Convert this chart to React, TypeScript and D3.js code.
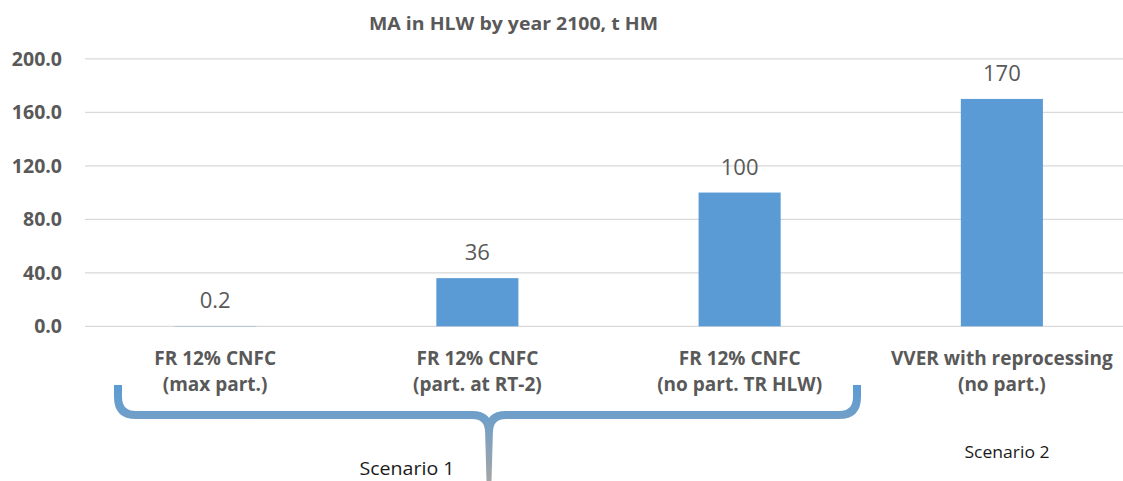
import * as d3 from "d3";
import { useEffect, useRef } from "react";

const categories = ["FR 12% CNFC|(max part.)", "FR 12% CNFC|(part. at RT-2)", "FR 12% CNFC|(no part. TR HLW)", "VVER with reprocessing|(no part.)"];
const values = [0.2, 36, 100, 170];
const valueLabels = ["0.2", "36", "100", "170"];
const yTicks = [0, 40, 80, 120, 160, 200];
const title = "MA in HLW by year 2100, t HM";
const scenarioLabels = ["Scenario 1", "Scenario 2"];

const W = 1123, H = 481;

const App = () => {
    const ref = useRef<SVGSVGElement>(null);

    useEffect(() => {
        const svg = d3.select(ref.current);
        svg.selectAll("*").remove();
        const font = "'Open Sans', 'Noto Sans', sans-serif";

        const x = d3.scaleBand().domain(categories).range([84, 1133]).paddingInner(0.687).paddingOuter(0.3435);
        const y = d3.scaleLinear().domain([0, 200]).range([326.3, 58.8]);

        // title
        svg.append("text")
            .attr("x", 513.5).attr("y", 30)
            .attr("text-anchor", "middle")
            .attr("textLength", 289).attr("lengthAdjust", "spacingAndGlyphs")
            .style("font-family", font).style("font-size", "17.5px").style("font-weight", "bold")
            .style("fill", "#595959")
            .text(title);

        // gridlines
        svg.append("g").selectAll("line").data(yTicks).join("line")
            .attr("x1", 85).attr("x2", W)
            .attr("y1", (d) => y(d)).attr("y2", (d) => y(d))
            .attr("stroke", "#d9d9d9").attr("stroke-width", 1.3);

        // y tick labels
        svg.append("g").selectAll("text").data(yTicks).join("text")
            .attr("x", 62).attr("y", (d) => y(d) + 7)
            .attr("text-anchor", "end")
            .style("font-family", font).style("font-size", "19.5px").style("font-weight", "bold")
            .style("fill", "#595959")
            .text((d) => d3.format(".1f")(d));

        // bars
        svg.append("g").selectAll("rect").data(values).join("rect")
            .attr("x", (_, i) => x(categories[i])!)
            .attr("y", (d) => y(d))
            .attr("width", x.bandwidth())
            .attr("height", (d) => y(0) - y(d))
            .attr("fill", "#5b9bd5");

        // value labels
        svg.append("g").selectAll("text").data(values).join("text")
            .attr("x", (_, i) => x(categories[i])! + x.bandwidth() / 2)
            .attr("y", (d) => y(d) - 18)
            .attr("text-anchor", "middle")
            .style("font-family", font).style("font-size", "22px")
            .style("fill", "#595959")
            .text((_, i) => valueLabels[i]);

        // category labels
        const cat = svg.append("g").selectAll("text").data(categories).join("text")
            .attr("text-anchor", "middle")
            .style("font-family", font).style("font-size", "19px").style("font-weight", "bold")
            .style("fill", "#595959");
        cat.each(function (d) {
            const t = d3.select(this);
            const cx = x(d)! + x.bandwidth() / 2;
            d.split("|").forEach((line, k) => {
                t.append("tspan").attr("x", cx).attr("y", 365 + k * 26).text(line);
            });
        });

        // brace
        const defs = svg.append("defs");
        const grad = defs.append("linearGradient").attr("id", "braceGrad")
            .attr("gradientUnits", "userSpaceOnUse")
            .attr("x1", 0).attr("y1", 385).attr("x2", 0).attr("y2", 481);
        grad.append("stop").attr("offset", 0).attr("stop-color", "#5b9bd5");
        grad.append("stop").attr("offset", 0.35).attr("stop-color", "#719fc8");
        grad.append("stop").attr("offset", 1).attr("stop-color", "#a5a5a5");

        const cx = 489;
        const path = d3.path();
        path.moveTo(118, 385);
        path.lineTo(118, 397);
        path.quadraticCurveTo(118, 415, 136, 415);
        path.lineTo(cx - 17, 415);
        path.quadraticCurveTo(cx, 415, cx, 432);
        path.moveTo(857, 385);
        path.lineTo(857, 397);
        path.quadraticCurveTo(857, 415, 839, 415);
        path.lineTo(cx + 17, 415);
        path.quadraticCurveTo(cx, 415, cx, 432);
        svg.append("path").attr("d", path.toString())
            .attr("fill", "none").attr("stroke", "url(#braceGrad)").attr("stroke-width", 8);

        svg.append("path")
            .attr("d", `M${cx - 4},428 L${cx + 4},428 L${cx + 2.5},481 L${cx - 2.5},481 Z`)
            .attr("fill", "url(#braceGrad)");

        // scenario labels
        svg.append("text").attr("x", 407).attr("y", 475)
            .attr("text-anchor", "middle")
            .attr("textLength", 95).attr("lengthAdjust", "spacingAndGlyphs")
            .style("font-family", font).style("font-size", "18px").style("fill", "#1a1a1a")
            .text(scenarioLabels[0]);
        svg.append("text").attr("x", 1007).attr("y", 458)
            .attr("text-anchor", "middle")
            .attr("textLength", 85).attr("lengthAdjust", "spacingAndGlyphs")
            .style("font-family", font).style("font-size", "16.5px").style("fill", "#1a1a1a")
            .text(scenarioLabels[1]);
    }, []);

    return (
        <svg ref={ref} width={W} height={H}
            style={{ position: "absolute", left: 0, top: 0, background: "#fff" }} />
    );
};

export default App;
